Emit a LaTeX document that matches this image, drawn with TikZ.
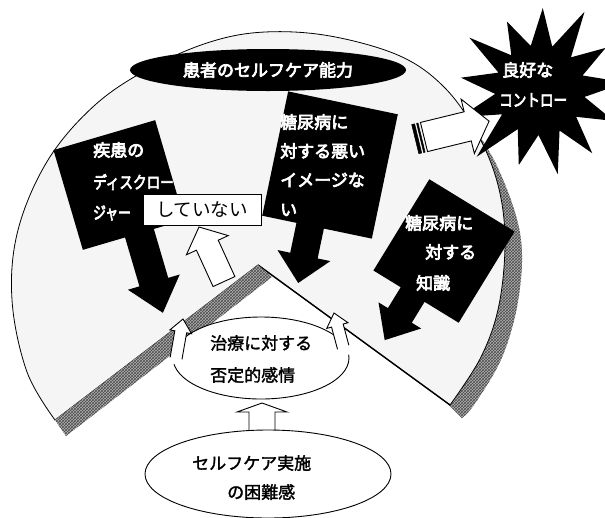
\documentclass[tikz,border=0pt]{standalone}
\usepackage{fontspec}
\setmainfont{Noto Sans CJK JP}
\usepackage{graphicx}
\usetikzlibrary{patterns,shapes.geometric}
\begin{document}
\begin{tikzpicture}[x=1pt,y=-1pt,
  hatchband/.style={preaction={fill=black!30}, pattern=crosshatch, pattern color=black!70},
  hollow/.style={fill=white, draw=black, line width=0.9pt, line join=miter},
  wtext/.style={text=white, font=\fontsize{17}{20}\selectfont, inner sep=0pt, anchor=west,
    execute at begin node={\special{pdf:literal direct 2 Tr 0.7 w 1 1 1 RG}},
    execute at end node={\special{pdf:literal direct 0 Tr}}},
  btext/.style={text=black, font=\fontsize{17}{20}\selectfont, inner sep=0pt, anchor=west,
    execute at begin node={\special{pdf:literal direct 2 Tr 0.3 w 0 0 0 RG}},
    execute at end node={\special{pdf:literal direct 0 Tr}}},
  blk/.style={fill=black},
  oval/.style={ellipse, draw=black, fill=white, line width=0.9pt, inner sep=0pt},
]
\useasboundingbox (0,0) rectangle (605,517);
\fill[white] (0,0) rectangle (605,517);

% right rim band
\fill[hatchband] plot[smooth, tension=0.6] coordinates {(466,116) (497,166) (520,233) (519,295) (503,355) (476,402) (462,418)} -- (448,404) -- (420,300) -- (430,150) -- cycle;

% disk
\coordinate (V) at (258,265);
\coordinate (L) at (55,420);
\coordinate (R) at (450,405);
\filldraw[fill=black!4, draw=black, line width=0.8pt] (V) -- plot[smooth, tension=0.6] coordinates {(55,420) (27,372) (12,300) (18,230) (48,160) (95,105) (150,68) (210,42) (265,32) (330,36) (400,56) (445,88) (478,135) (498,185) (505,240) (499,305) (481,357) (450,405)} -- cycle;
\draw[line width=1.4pt] (V) -- (R);

% left band (cut face)
\fill[hatchband] (V) -- (L) -- (66,436) -- (272,277) -- cycle;

% top ellipse
\node[ellipse, fill=black, minimum width=276pt, minimum height=42pt, inner sep=0pt] (capbg) at (268,70) {};
\node[wtext, anchor=center] (cap) at (268,70) {患者のセルフケア能力};

% black callout arrows
\begin{scope}[shift={(119,185)}, rotate=16.4]
\fill[blk] (-53,-52) -- (53,-52) -- (53,52) -- (21,52) -- (21,103) -- (33,103) -- (6,135) -- (-21,103) -- (-9,103) -- (-9,52) -- (-53,52) -- cycle;
\end{scope}
\begin{scope}[shift={(330,165)}, rotate=-11.8]
\fill[blk] (-56,-63.5) -- (56,-63.5) -- (56,63.5) -- (7,63.5) -- (7,94) -- (20,94) -- (-7,122) -- (-34,94) -- (-21,94) -- (-21,63.5) -- (-56,63.5) -- cycle;
\end{scope}
\begin{scope}[shift={(444,251)}, rotate=-31.5]
\fill[blk] (-50,-53.5) -- (50,-53.5) -- (50,53.5) -- (10,53.5) -- (10,78) -- (21,78) -- (-4,107) -- (-29,78) -- (-18,78) -- (-18,53.5) -- (-50,53.5) -- cycle;
\end{scope}

\node[wtext] (d1) at (93,150) {疾患の};
\node[wtext] (d2) at (93,182) {\scalebox{0.8}[1]{ディスクロー}};
\node[wtext] (d3) at (93,213) {\scalebox{0.75}[1]{ジャー}};

\node[wtext] (m1) at (280,122) {糖尿病に};
\node[wtext] (m2) at (280,151) {対する悪い};
\node[wtext] (m3) at (280,180) {イメージな};
\node[wtext] (m4) at (280,210) {い};

\node[wtext] (k1) at (405,223) {糖尿病に};
\node[wtext] (k2) at (425,252) {対する};
\node[wtext] (k3) at (416,283) {知識};

% not doing box
\node[draw=black, fill=white, line width=0.9pt, minimum width=118pt, minimum height=31pt, inner sep=0pt,
      font=\fontsize{18.5}{20}\selectfont] (nd) at (202,210) {していない};

% hollow arrow to the box
\begin{scope}[shift={(199,227)}, rotate=24.6]
\filldraw[hollow] (0,0) -- (23,20) -- (12,20) -- (12,60) -- (-12,60) -- (-12,20) -- (-23,20) -- cycle;
\end{scope}

% star
\begin{scope}[shift={(540,90)}]
\fill[black] (5:86pt) \foreach \k/\r in {1/78,2/90,3/82,4/76,5/88,6/80,7/84,8/92,9/78,10/86,11/82,12/80} { -- ({5+\k*27.69-13.85}:45pt) -- ({5+\k*27.69}:\r pt) } -- ({5-13.85}:45pt) -- cycle;
\end{scope}
\node[wtext] (g1) at (502,70) {良好な};
\node[wtext] (g2) at (499,100) {\scalebox{0.8}[1]{コントロー}};

% striped arrow toward the star
\begin{scope}[shift={(424,137)}, rotate=13.7]
\filldraw[hollow] (0,-15) -- (45,-15) -- (45,-28) -- (67,0) -- (45,28) -- (45,15) -- (0,15) -- cycle;
\filldraw[fill=black, draw=black, line width=0.5pt] (-9,-15) rectangle (-6,15);
\filldraw[fill=black, draw=black, line width=0.5pt] (-4,-15) rectangle (-2.5,15);
\end{scope}

% negative feeling ellipse
\node[oval, minimum width=176pt, minimum height=82pt] (neg) at (261,358) {};
\node[btext] (n1) at (210,343) {治療に対する};
\node[btext] (n2) at (210,375) {否定的感情};

% small arrows from the ellipse
\begin{scope}[shift={(183,319)}, rotate=-10]
\fill[white] (0,0) -- (11,13) -- (6,13) -- (6,46) -- (-6,46) -- (-6,13) -- (-11,13) -- cycle;
\draw[line width=0.9pt] (6,40) -- (6,13) -- (11,13) -- (0,0) -- (-11,13) -- (-6,13) -- (-6,40);
\end{scope}
\begin{scope}[shift={(334,313)}, rotate=15]
\fill[white] (0,0) -- (11,13) -- (6,13) -- (6,44) -- (-6,44) -- (-6,13) -- (-11,13) -- cycle;
\draw[line width=0.9pt] (6,35) -- (6,13) -- (11,13) -- (0,0) -- (-11,13) -- (-6,13) -- (-6,36);
\end{scope}

% vertical hollow arrow
\filldraw[hollow] (262,403) -- (287,412) -- (275,412) -- (275,440) -- (249,440) -- (249,412) -- (237,412) -- cycle;

% difficulty ellipse
\node[oval, minimum width=246pt, minimum height=88pt] (diff) at (268,474) {};
\node[btext] (f1) at (192,463) {セルフケア実施};
\node[btext] (f2) at (227,492) {の困難感};
\end{tikzpicture}
\end{document}
